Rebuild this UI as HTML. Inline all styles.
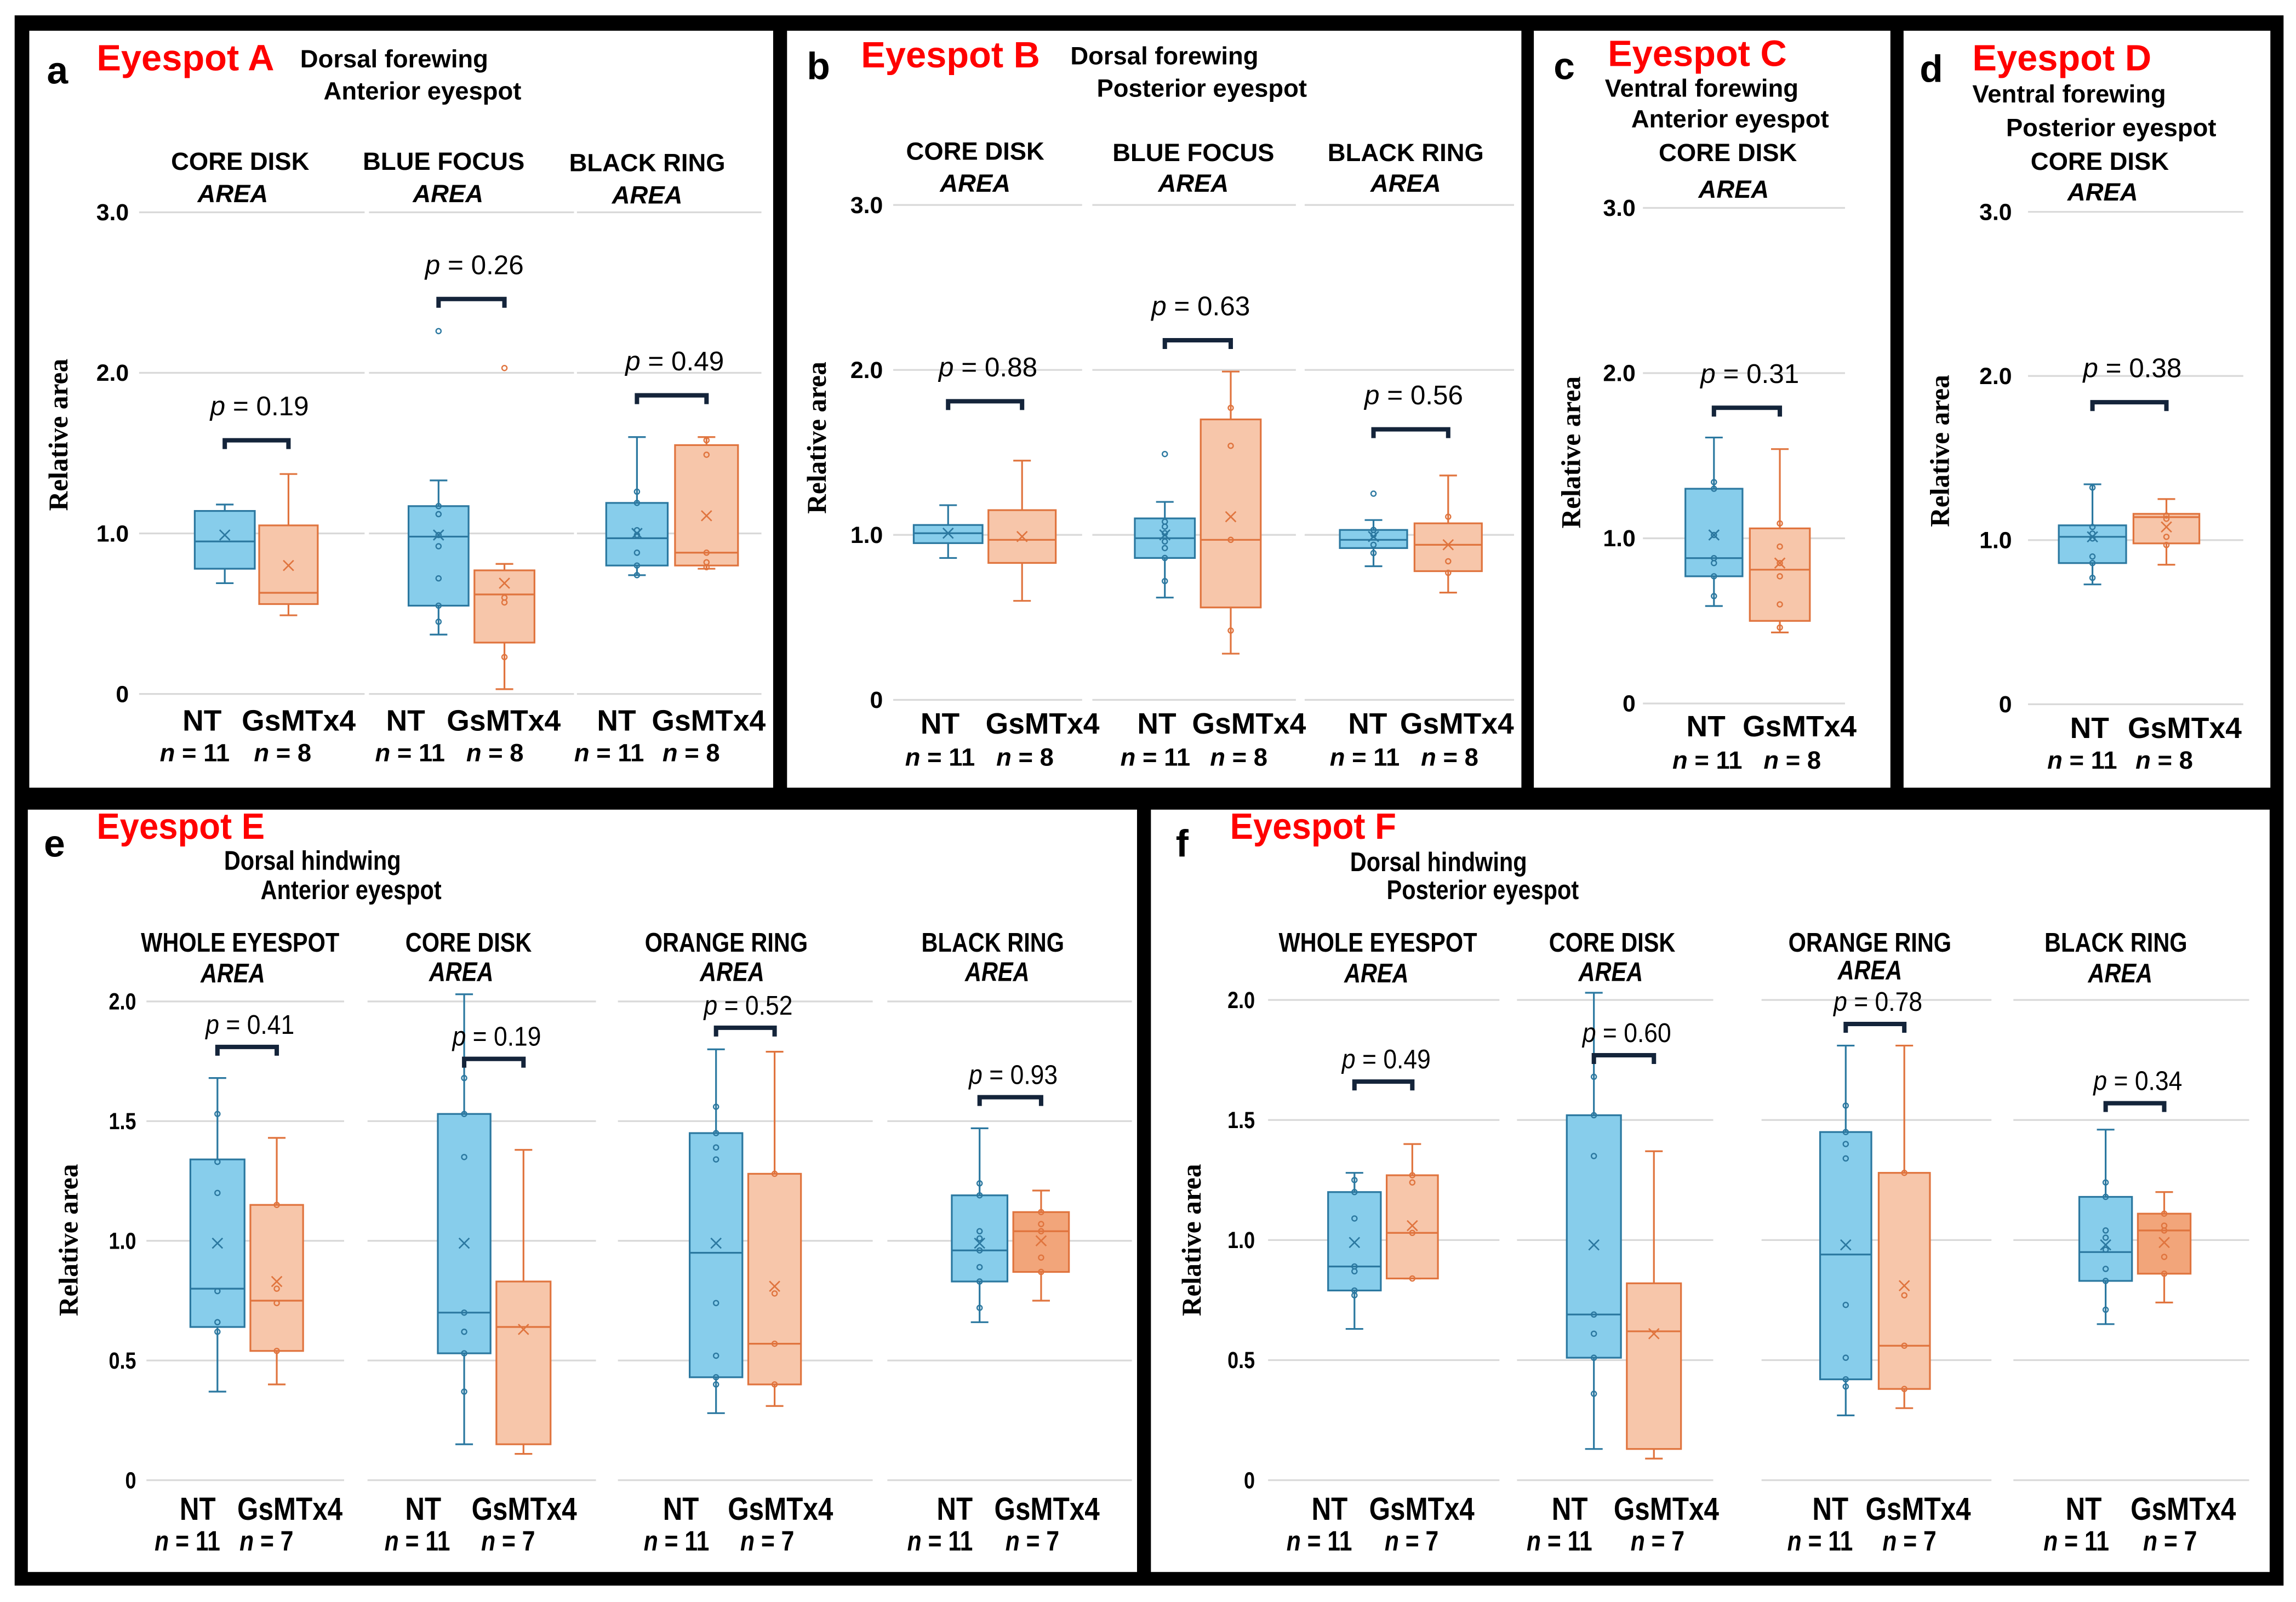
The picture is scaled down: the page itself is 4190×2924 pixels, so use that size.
<!DOCTYPE html>
<html><head><meta charset="utf-8"><style>
html,body{margin:0;padding:0;background:#fff;}
svg{display:block;}
</style></head><body>
<svg id="fig" xmlns="http://www.w3.org/2000/svg" width="4190" height="2924" viewBox="0 0 1568 1094.2" preserveAspectRatio="none" style="font-family:'Liberation Sans',Arial,sans-serif">
<rect x="0" y="0" width="1568" height="1094.2" fill="#fff"/>
<rect x="10" y="10.5" width="1549.5" height="1072.5" fill="#000"/>
<rect x="20" y="21" width="508" height="517" fill="#fff"/>
<rect x="537.5" y="21" width="501.5" height="517" fill="#fff"/>
<rect x="1047.5" y="21" width="243.5" height="517" fill="#fff"/>
<rect x="1300" y="21" width="250.5" height="517" fill="#fff"/>
<rect x="19" y="553" width="757.5" height="520.7" fill="#fff"/>
<rect x="786" y="553" width="764" height="520.7" fill="#fff"/>
<g id="content"></g>
</svg>
<script>
// ---- ticks ----
const TOP_TICKS = [0, 1, 2, 3];
const TOP_TICK_LABELS = ['0', '1.0', '2.0', '3.0'];
const BOT_TICKS = [0, 0.5, 1, 1.5, 2];
const BOT_TICK_LABELS = ['0', '0.5', '1.0', '1.5', '2.0'];
// stats: [min, q1, median, q3, max, mean]
// ---- panel a ----
const aCategories = ['CORE DISK', 'BLUE FOCUS', 'BLACK RING'];
const aNT = [[0.69,0.78,0.95,1.14,1.18,0.99],[0.37,0.55,0.98,1.17,1.33,0.99],[0.74,0.80,0.97,1.19,1.60,1.00]];
const aGs = [[0.49,0.56,0.63,1.05,1.37,0.80],[0.03,0.32,0.62,0.77,0.81,0.69],[0.78,0.80,0.88,1.55,1.60,1.11]];
const aNTpts = [[],[1.17,1.12,0.99,0.92,0.72,0.55,0.45,2.26],[1.26,1.19,1.02,0.99,0.88,0.80,0.74]];
const aGsPts = [[],[0.60,0.57,0.23,2.03],[1.58,1.49,0.88,0.82,0.79]];
const aP = ['0.19','0.26','0.49'];
const aBr = [1.58,2.46,1.86];
// ---- panel b ----
const bCategories = ['CORE DISK', 'BLUE FOCUS', 'BLACK RING'];
const bNT = [[0.86,0.95,1.01,1.06,1.18,1.01],[0.62,0.86,0.98,1.10,1.20,1.00],[0.81,0.92,0.97,1.03,1.09,0.99]];
const bGs = [[0.60,0.83,0.97,1.15,1.45,0.99],[0.28,0.56,0.97,1.70,1.99,1.11],[0.65,0.78,0.94,1.07,1.36,0.94]];
const bNTpts = [[],[1.49,1.08,1.05,1.01,0.96,0.92,0.86,0.72],[1.25,1.03,1.00,0.94,0.89]];
const bGsPts = [[],[1.77,1.54,0.97,0.42],[1.11,0.84,0.77]];
const bP = ['0.88','0.63','0.56'];
const bBr = [1.81,2.18,1.64];
// ---- panel c ----
const cCategories = ['CORE DISK'];
const cNT = [[0.59,0.77,0.88,1.30,1.61,1.02]];
const cGs = [[0.43,0.50,0.81,1.06,1.54,0.85]];
const cNTpts = [[1.34,1.30,1.02,0.88,0.85,0.77,0.65]];
const cGsPts = [[1.09,0.95,0.85,0.77,0.60,0.46]];
const cP = ['0.31'];
const cBr = [1.79];
// ---- panel d ----
const dCategories = ['CORE DISK'];
const dNT = [[0.73,0.86,1.02,1.09,1.34,1.02]];
const dGs = [[0.85,0.98,1.14,1.16,1.25,1.08]];
const dNTpts = [[1.32,1.08,1.04,1.01,0.90,0.86,0.77]];
const dGsPts = [[1.15,1.13,1.02,0.97]];
const dP = ['0.38'];
const dBr = [1.84];
// ---- panel e ----
const eCategories = ['WHOLE EYESPOT','CORE DISK','ORANGE RING','BLACK RING'];
const eNT = [[0.37,0.64,0.80,1.34,1.68,0.99],[0.15,0.53,0.70,1.53,2.03,0.99],[0.28,0.43,0.95,1.45,1.80,0.99],[0.66,0.83,0.96,1.19,1.47,0.99]];
const eGs = [[0.40,0.54,0.75,1.15,1.43,0.83],[0.11,0.15,0.64,0.83,1.38,0.63],[0.31,0.40,0.57,1.28,1.79,0.81],[0.75,0.87,1.04,1.12,1.21,1.00]];
const eNTpts = [[1.53,1.33,1.20,0.79,0.66,0.62],[1.68,1.53,1.35,0.70,0.62,0.53,0.37],[1.56,1.45,1.39,1.34,0.74,0.52,0.43,0.40],[1.24,1.19,1.04,1.01,0.96,0.89,0.83,0.72]];
const eGsPts = [[1.15,0.80,0.74,0.54],[],[1.28,0.78,0.57,0.40],[1.12,1.07,1.04,0.93,0.87]];
const eP = ['0.41','0.19','0.52','0.93'];
const eBr = [1.81,1.76,1.89,1.60];
// ---- panel f ----
const fCategories = ['WHOLE EYESPOT','CORE DISK','ORANGE RING','BLACK RING'];
const fNT = [[0.63,0.79,0.89,1.20,1.28,0.99],[0.13,0.51,0.69,1.52,2.03,0.98],[0.27,0.42,0.94,1.45,1.81,0.98],[0.65,0.83,0.95,1.18,1.46,0.98]];
const fGs = [[0.84,0.84,1.03,1.27,1.40,1.06],[0.09,0.13,0.62,0.82,1.37,0.61],[0.30,0.38,0.56,1.28,1.81,0.81],[0.74,0.86,1.04,1.11,1.20,0.99]];
const fNTpts = [[1.25,1.20,1.09,0.89,0.87,0.79,0.77],[1.68,1.52,1.35,0.69,0.61,0.51,0.36],[1.56,1.45,1.40,1.34,0.73,0.51,0.42,0.39],[1.24,1.18,1.04,1.01,0.96,0.88,0.83,0.71]];
const fGsPts = [[1.27,1.24,1.03,0.84],[],[1.28,0.77,0.56,0.38],[1.11,1.06,1.04,0.93,0.86]];
const fP = ['0.49','0.60','0.78','0.34'];
const fBr = [1.66,1.77,1.90,1.57];

const NS = 'http://www.w3.org/2000/svg';
const root = document.getElementById('content');
const BLUE_F = '#87cdeb', BLUE_S = '#2b78a0', OR_F = '#f7c6aa', OR_S = '#e0743e', OR_F2 = '#f2a57a';

function mk(tag, attrs, parent) {
  const e = document.createElementNS(NS, tag);
  for (const k in attrs) e.setAttribute(k, attrs[k]);
  (parent || root).appendChild(e);
  return e;
}
function txt(x, y, s, size, opts, parent) {
  opts = opts || {};
  const e = mk('text', {x: x, y: y, 'font-size': size, 'font-weight': opts.w || 'bold', 'text-anchor': opts.a || 'start', fill: opts.fill || '#000'}, parent);
  if (opts.family) e.setAttribute('style', 'font-family:' + opts.family);
  if (opts.italic) e.setAttribute('font-style', 'italic');
  if (opts.rich) {
    opts.rich.forEach(function (r) {
      const t = document.createElementNS(NS, 'tspan');
      if (r[1]) t.setAttribute('font-style', 'italic');
      t.textContent = r[0];
      e.appendChild(t);
    });
  } else e.textContent = s;
  if (opts.cond) {
    const L = e.getComputedTextLength();
    e.setAttribute('textLength', (L * opts.cond).toFixed(1));
    e.setAttribute('lengthAdjust', 'spacingAndGlyphs');
  }
  return e;
}

function panel(P) {
  const g = mk('g', {});
  
  
  const cond = P.cond || null;
  const fs = P.fs || {head: 17, nt: 20, n: 17};
  const Y = function (v) { return P.y0 - v * (P.y0 - P.yTop) / P.vmax; };
  let e = txt(P.letter[0], P.letter[1], P.id, 26, {}, g);
  
  
  e = txt(P.title[0], P.title[1], 'Eyespot ' + P.id.toUpperCase(), 25, {fill: '#ff0000', cond: P.tcond}, g);
  
  
  P.sub.forEach(function (s) {
    const t = txt(s[0], s[1], s[2], fs.head, {cond: cond}, g);
    
    
  });
  P.ticks.forEach(function (v, i) {
    P.segs.forEach(function (sg) {
      const l = mk('line', {x1: sg[0], x2: sg[1], y1: Y(v), y2: Y(v), stroke: '#d9d9d9', 'stroke-width': 1.2}, g);
      
      
    });
    const t = txt(P.tickX, Y(v) + 5.5, P.tickLabels[i], 16, {a: 'end', cond: cond}, g);
    
    
  });
  const yt = txt(0, 0, 'Relative area', 18.5, {a: 'middle', family: '"Liberation Serif","Times New Roman",serif'}, g);
  yt.setAttribute('transform', 'translate(' + P.yTitle[0] + ',' + P.yTitle[1] + ') rotate(-90)');
  
  
  P.cats.forEach(function (cat, gi) {
    const bx = P.boxes[gi];
    const h = P.heads[gi];
    let t = txt(h[0], h[1], cat, fs.head, {a: 'middle', cond: cond}, g);
    
    
    t = txt(h[2], h[3], 'AREA', fs.head, {a: 'middle', italic: true, cond: cond}, g);
    
    
    const series = [
      {st: P.nt[gi], pts: P.ntPts[gi], l: bx[0], r: bx[1], f: BLUE_F, s: BLUE_S, nm: 'nt'},
      {st: P.gs[gi], pts: P.gsPts[gi], l: bx[2], r: bx[3], f: (P.gsFill && P.gsFill[gi]) || OR_F, s: OR_S, nm: 'gsmtx4'}
    ];
    series.forEach(function (S) {
      const cx = (S.l + S.r) / 2, st = S.st;
      const bg = mk('g', {}, g);
      
      
      mk('line', {x1: cx, x2: cx, y1: Y(st[4]), y2: Y(st[3]), stroke: S.s, 'stroke-width': 1.2}, bg);
      mk('line', {x1: cx, x2: cx, y1: Y(st[1]), y2: Y(st[0]), stroke: S.s, 'stroke-width': 1.2}, bg);
      mk('line', {x1: cx - 6, x2: cx + 6, y1: Y(st[4]), y2: Y(st[4]), stroke: S.s, 'stroke-width': 1.2}, bg);
      mk('line', {x1: cx - 6, x2: cx + 6, y1: Y(st[0]), y2: Y(st[0]), stroke: S.s, 'stroke-width': 1.2}, bg);
      mk('rect', {x: S.l, y: Y(st[3]), width: S.r - S.l, height: Y(st[1]) - Y(st[3]), fill: S.f, stroke: S.s, 'stroke-width': 1.2}, bg);
      mk('line', {x1: S.l, x2: S.r, y1: Y(st[2]), y2: Y(st[2]), stroke: S.s, 'stroke-width': 1.2}, bg);
      const my = Y(st[5]);
      mk('path', {d: 'M' + (cx - 3.5) + ' ' + (my - 3.5) + 'L' + (cx + 3.5) + ' ' + (my + 3.5) + 'M' + (cx - 3.5) + ' ' + (my + 3.5) + 'L' + (cx + 3.5) + ' ' + (my - 3.5), stroke: S.s, 'stroke-width': 1, fill: 'none'}, bg);
      S.pts.forEach(function (v) {
        mk('circle', {cx: cx, cy: Y(v), r: 1.7, fill: 'none', stroke: S.s, 'stroke-width': 0.9}, bg);
      });
    });
    const c1 = (bx[0] + bx[1]) / 2, c2 = (bx[2] + bx[3]) / 2, by = Y(P.br[gi]);
    const br = mk('path', {d: 'M' + c1 + ' ' + (by + 6) + 'V' + by + 'H' + c2 + 'V' + (by + 6), stroke: '#14243a', 'stroke-width': 3, fill: 'none'}, g);
    
    
    t = txt((c1 + c2) / 2 + 2, by - P.pOff, '', 18.5, {a: 'middle', w: 'normal', rich: [['p', true], [' = ' + P.p[gi], false]], cond: P.pcond}, g);
    
    
    const xl = P.xl[gi];
    t = txt(xl[0], P.xlY[0], 'NT', fs.nt, {a: 'middle', cond: cond}, g);
    
    
    t = txt(xl[1], P.xlY[0], 'GsMTx4', fs.nt, {a: 'middle', cond: cond}, g);
    
    
    t = txt(xl[2], P.xlY[1], '', fs.n, {a: 'middle', rich: [['n', true], [' = 11', false]], cond: cond}, g);
    
    
    t = txt(xl[3], P.xlY[1], '', fs.n, {a: 'middle', rich: [['n', true], [' = ' + P.nGs, false]], cond: cond}, g);
    
    
  });
}

panel({id: 'a', letter: [32, 57], title: [66, 48], sub: [[205, 46, 'Dorsal forewing'], [221, 68, 'Anterior eyespot']],
  y0: 474, yTop: 145, vmax: 3, ticks: TOP_TICKS, tickLabels: TOP_TICK_LABELS, tickX: 88,
  segs: [[95, 249], [252, 392], [394, 520]], yTitle: [46, 297],
  cats: aCategories, heads: [[164, 116, 159, 138], [303, 116, 306, 138], [442, 117, 442, 139]],
  boxes: [[133, 174, 177, 217], [279, 320, 324, 365], [414, 456, 461, 504]],
  nt: aNT, gs: aGs, ntPts: aNTpts, gsPts: aGsPts, p: aP, br: aBr, pOff: 17, nGs: 8,
  xl: [[138, 204, 133, 193], [277, 344, 280, 338], [421, 484, 416, 472]], xlY: [499, 520]});

panel({id: 'b', letter: [551, 54], title: [588, 46], sub: [[731, 44, 'Dorsal forewing'], [749, 66, 'Posterior eyespot']],
  y0: 478, yTop: 140, vmax: 3, ticks: TOP_TICKS, tickLabels: TOP_TICK_LABELS, tickX: 603,
  segs: [[610, 739], [746, 885], [891, 1034]], yTitle: [564, 299],
  cats: bCategories, heads: [[666, 109, 666, 131], [815, 110, 815, 131], [960, 110, 960, 131]],
  boxes: [[624, 671, 675, 721], [775, 816, 820, 861], [915, 961, 966, 1012]],
  nt: bNT, gs: bGs, ntPts: bNTpts, gsPts: bGsPts, p: bP, br: bBr, pOff: 17, nGs: 8,
  xl: [[642, 712, 642, 700], [790, 853, 789, 846], [934, 995, 932, 990]], xlY: [501, 523]});

panel({id: 'c', letter: [1061, 54], title: [1098, 45], sub: [[1096, 66, 'Ventral forewing'], [1114, 87, 'Anterior eyespot']],
  y0: 480.5, yTop: 142, vmax: 3, ticks: TOP_TICKS, tickLabels: TOP_TICK_LABELS, tickX: 1117,
  segs: [[1122, 1260]], yTitle: [1079, 309],
  cats: cCategories, heads: [[1180, 110, 1184, 135]],
  boxes: [[1151, 1190, 1195, 1236]],
  nt: cNT, gs: cGs, ntPts: cNTpts, gsPts: cGsPts, p: cP, br: cBr, pOff: 17, nGs: 8,
  xl: [[1165, 1229, 1166, 1224]], xlY: [503, 525]});

panel({id: 'd', letter: [1311, 56], title: [1347, 48], sub: [[1347, 70, 'Ventral forewing'], [1370, 93, 'Posterior eyespot']],
  y0: 481, yTop: 144.7, vmax: 3, ticks: TOP_TICKS, tickLabels: TOP_TICK_LABELS, tickX: 1374,
  segs: [[1385, 1532]], yTitle: [1331, 308],
  cats: dCategories, heads: [[1434, 116, 1436, 137]],
  boxes: [[1406, 1452, 1457, 1502]],
  nt: dNT, gs: dGs, ntPts: dNTpts, gsPts: dGsPts, p: dP, br: dBr, pOff: 17, nGs: 8,
  xl: [[1427, 1492, 1422, 1478]], xlY: [504, 525]});

panel({id: 'e', letter: [30, 585], title: [66, 573], tcond: 0.95, sub: [[153, 594, 'Dorsal hindwing'], [178, 614, 'Anterior eyespot']],
  y0: 1011, yTop: 684, vmax: 2, ticks: BOT_TICKS, tickLabels: BOT_TICK_LABELS, tickX: 93,
  segs: [[100, 235], [251, 407], [422, 596], [606, 773]], yTitle: [53, 847], cond: 0.84, pcond: 0.9,
  fs: {head: 18.5, nt: 22, n: 19},
  cats: eCategories, heads: [[164, 650, 159, 671], [320, 650, 315, 670], [496, 650, 500, 670], [678, 650, 681, 670]],
  boxes: [[130, 167, 171, 207], [299, 335, 339, 376], [471, 507, 511, 547], [650, 688, 692, 730]],
  gsFill: [null, null, null, OR_F2],
  nt: eNT, gs: eGs, ntPts: eNTpts, gsPts: eGsPts, p: eP, br: eBr, pOff: 9, nGs: 7,
  xl: [[135, 198, 128, 182], [289, 358, 285, 347], [465, 533, 462, 524], [652, 715, 642, 705]], xlY: [1038, 1059]});

panel({id: 'f', letter: [803, 585], title: [840, 573], tcond: 0.95, sub: [[922, 595, 'Dorsal hindwing'], [947, 614, 'Posterior eyespot']],
  y0: 1011, yTop: 683, vmax: 2, ticks: BOT_TICKS, tickLabels: BOT_TICK_LABELS, tickX: 857,
  segs: [[866, 1024], [1036, 1170], [1203, 1360], [1375, 1536]], yTitle: [820, 847], cond: 0.84, pcond: 0.9,
  fs: {head: 18.5, nt: 22, n: 19},
  cats: fCategories, heads: [[941, 650, 940, 671], [1101, 650, 1100, 670], [1277, 650, 1277, 669], [1445, 650, 1448, 671]],
  boxes: [[907, 943, 947, 982], [1070, 1107, 1111, 1148], [1243, 1278, 1283, 1318], [1420, 1456, 1460, 1496]],
  gsFill: [null, null, null, OR_F2],
  nt: fNT, gs: fGs, ntPts: fNTpts, gsPts: fGsPts, p: fP, br: fBr, pOff: 9, nGs: 7,
  xl: [[908, 971, 901, 964], [1072, 1138, 1065, 1132], [1250, 1310, 1243, 1304], [1423, 1491, 1418, 1482]], xlY: [1038, 1059]});
</script>
</body></html>
